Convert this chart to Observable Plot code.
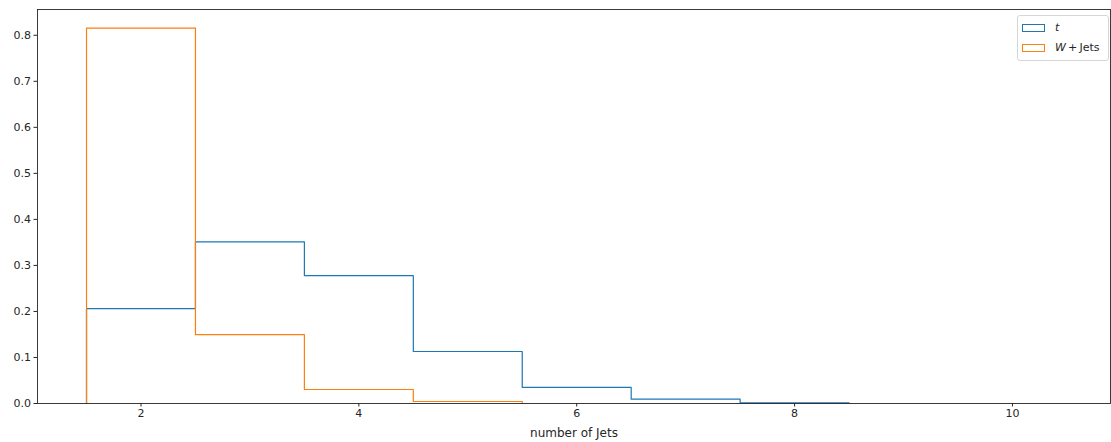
<!DOCTYPE html>
<html>
<head>
<meta charset="utf-8">
<script src="https://cdn.jsdelivr.net/npm/d3@7"></script>
<script src="https://cdn.jsdelivr.net/npm/@observablehq/plot@0.6"></script>
<style>
  html, body { margin: 0; padding: 0; background: #fff; }
  #wrap { position: relative; width: 1111px; height: 442px; font-family: "DejaVu Sans", sans-serif; }
  .legend { position: absolute; left: 1017px; top: 15px; width: 92px; height: 46px; border: 1px solid #d6d6d6; border-radius: 3px; background: rgba(255,255,255,0.8); box-sizing: border-box; font-size: 11px; color: #262626; }
  .item { position: absolute; left: 4px; height: 10px; display: flex; align-items: center; }
  .patch { width: 23px; height: 8px; box-sizing: border-box; border: 1.2px solid; margin-right: 10px; }
  .item span { line-height: 10px; white-space: nowrap; }
</style>
</head>
<body>
<div id="wrap"></div>
<script>
// Bin edges (number of jets, integer bins centred on 2..8)
const binEdges = [1.5, 2.5, 3.5, 4.5, 5.5, 6.5, 7.5, 8.5];
// Normalised counts per bin
const tValues = [0.206, 0.351, 0.278, 0.113, 0.035, 0.0095, 0.0015];
const wjetsValues = [0.8155, 0.1497, 0.0304, 0.0043];
const seriesNames = ["t", "W + Jets"];
const seriesColors = ["#1f77b4", "#ff7f0e"];
const xTicks = [2, 4, 6, 8, 10];
const yTicks = [0, 0.1, 0.2, 0.3, 0.4, 0.5, 0.6, 0.7, 0.8];
const xLabel = "number of Jets";

function stepOutline(values, series) {
  const pts = [{x: binEdges[0], y: 0, series}];
  values.forEach((v, i) => {
    pts.push({x: binEdges[i], y: v, series});
    pts.push({x: binEdges[i + 1], y: v, series});
  });
  pts.push({x: binEdges[values.length], y: 0, series});
  return pts;
}
const tPts = stepOutline(tValues, seriesNames[0]);
const wPts = stepOutline(wjetsValues, seriesNames[1]);

const chart = Plot.plot({
  width: 1111,
  height: 442,
  marginLeft: 37,
  marginRight: 1,
  marginTop: 9,
  marginBottom: 39,
  style: { fontFamily: "DejaVu Sans, sans-serif", fontSize: "11px", color: "#262626", background: "white", overflow: "visible" },
  x: { domain: [1.05, 10.9], label: null },
  y: { domain: [0, 0.856], label: null },
  marks: [
    Plot.axisX({ ticks: xTicks, tickSize: 3.5, tickPadding: 2, tickFormat: d => String(d), stroke: "#262626", fontSize: 11 }),
    Plot.axisY({ ticks: yTicks, tickSize: 3.5, tickPadding: 3, tickFormat: d3.format(".1f"), stroke: "#262626", fontSize: 11 }),
    Plot.line(tPts, { x: "x", y: "y", stroke: seriesColors[0], strokeWidth: 1.2, curve: "linear" }),
    Plot.line(wPts, { x: "x", y: "y", stroke: seriesColors[1], strokeWidth: 1.2, curve: "linear" }),
    Plot.frame({ stroke: "#262626", strokeWidth: 0.9 }),
    Plot.text([xLabel], { text: d => d, frameAnchor: "bottom", dy: 30, fontSize: 12, fill: "#262626", lineAnchor: "middle" })
  ]
});

const wrap = document.getElementById("wrap");
wrap.appendChild(chart);

const legend = document.createElement("div");
legend.className = "legend";
const labelsHtml = [
  '<i>t</i>',
  '<i>W</i>\u2009+\u2009Jets'
];
seriesNames.forEach((name, i) => {
  const item = document.createElement("div");
  item.className = "item";
  item.style.top = (i === 0 ? 7 : 27) + "px";
  const patch = document.createElement("div");
  patch.className = "patch";
  patch.style.borderColor = seriesColors[i];
  const lab = document.createElement("span");
  lab.innerHTML = labelsHtml[i];
  item.appendChild(patch);
  item.appendChild(lab);
  legend.appendChild(item);
});
wrap.appendChild(legend);
</script>
</body>
</html>
